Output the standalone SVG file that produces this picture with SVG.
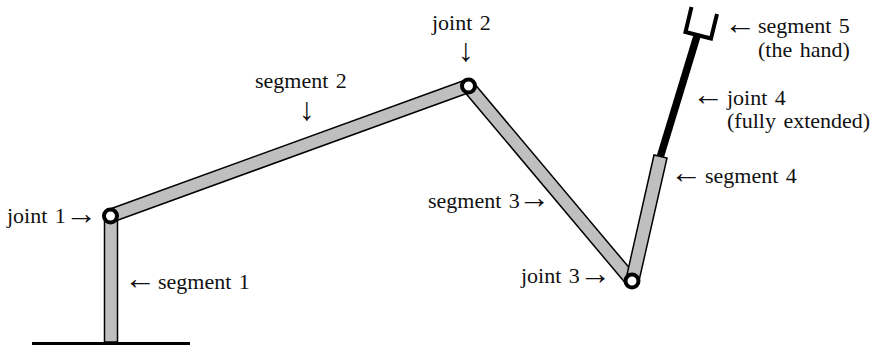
<svg xmlns="http://www.w3.org/2000/svg" width="874" height="347" viewBox="0 0 874 347">
<style>
text{font-family:"Liberation Serif","Times New Roman",serif;font-size:22px;word-spacing:2px;fill:#111}
.a{font-size:32px;word-spacing:0}
.seg{fill:#bfbfbf;stroke:#000;stroke-width:1.500}
.j{fill:#fff;stroke:#000;stroke-width:4}
</style>
<rect width="874" height="347" fill="#fff"/>
<g id="ground"><path d="M32 343.500H190" stroke="#000" stroke-width="3" fill="none"/></g>
<g id="segment1"><rect class="seg" x="104.500" y="216" width="13" height="126"/><text x="158" y="289">segment 1</text><text class="a" x="124" y="289">←</text></g>
<g id="segment2"><polygon class="seg" points="108,209.800 466,79.800 470,92.200 112,222.200"/><text x="255" y="88">segment 2</text><text class="a" x="299" y="120">↓</text></g>
<g id="segment3"><polygon class="seg" points="473,82 637,277 627,285 463,90"/><text x="428" y="208">segment 3</text><text class="a" x="518" y="208">→</text></g>
<g id="segment4"><polygon class="seg" points="626,279 654,155 667,158 638.500,283"/><text x="705" y="183">segment 4</text><text class="a" x="670" y="183">←</text></g>
<g id="joint4"><path d="M660.500 156L697 36" stroke="#000" stroke-width="7.500" fill="none"/><text x="727" y="105">joint 4</text><text x="727" y="128">(fully extended)</text><text class="a" x="692" y="105">←</text></g>
<g id="segment5"><path d="M691.500 7L685.500 32L711 38.500L717 14" stroke="#000" stroke-width="4" fill="none"/><text x="758" y="33">segment 5</text><text x="758" y="57">(the hand)</text><text class="a" x="724" y="34">←</text></g>
<g id="joint1"><circle class="j" cx="110.500" cy="216" r="6.500"/><text x="7" y="223">joint 1</text><text class="a" x="65" y="224">→</text></g>
<g id="joint2"><circle class="j" cx="468.500" cy="86" r="6.500"/><text x="432" y="30">joint 2</text><text class="a" x="458" y="61">↓</text></g>
<g id="joint3"><circle class="j" cx="632" cy="281" r="6.500"/><text x="521" y="283">joint 3</text><text class="a" x="579" y="284">→</text></g>
</svg>
